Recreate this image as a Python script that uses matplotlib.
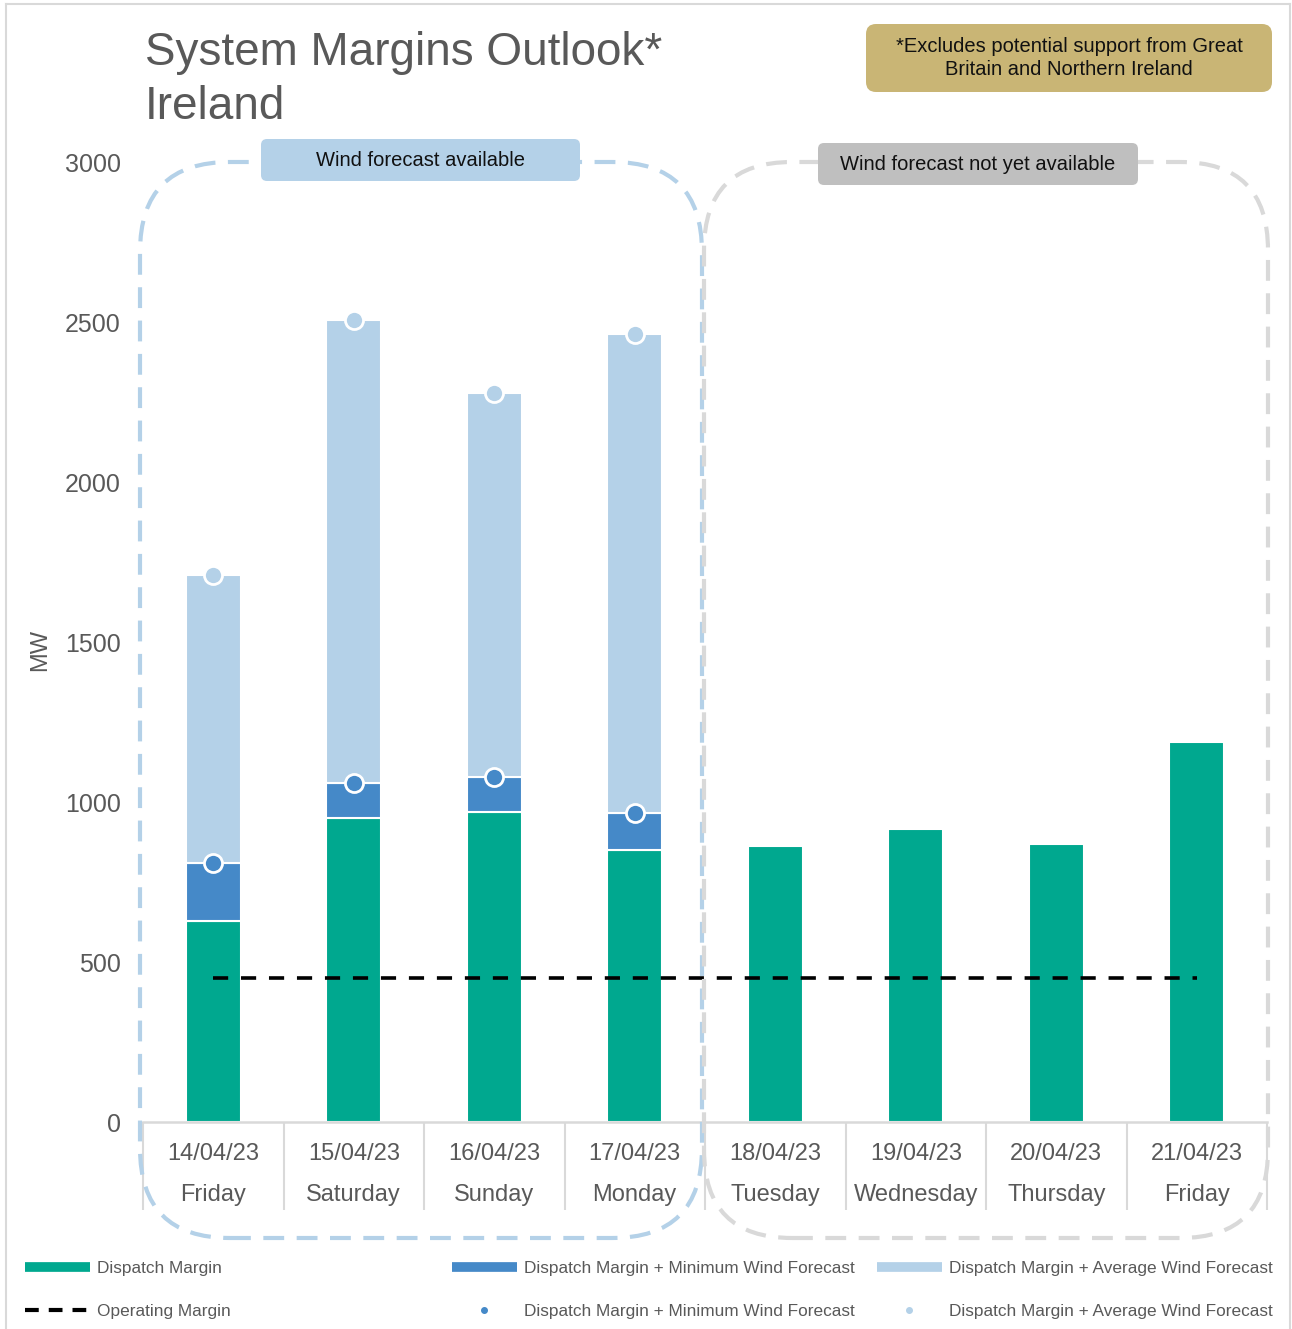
import matplotlib
matplotlib.use("Agg")
import matplotlib.pyplot as plt
from matplotlib.patches import FancyBboxPatch
from matplotlib.lines import Line2D
from matplotlib.transforms import IdentityTransform
import numpy as np

# ---------------- data ----------------
dates = ['14/04/23', '15/04/23', '16/04/23', '17/04/23',
         '18/04/23', '19/04/23', '20/04/23', '21/04/23']
days = ['Friday', 'Saturday', 'Sunday', 'Monday',
        'Tuesday', 'Wednesday', 'Thursday', 'Friday']
dispatch_margin = [630, 951, 970, 850, 863, 916, 870, 1189]
dm_min_wind = [811, 1061, 1080, 967]
dm_avg_wind = [1711, 2509, 2280, 2465]
operating_margin = 450

# ---------------- style ----------------
GREEN = '#00a88f'
BLUE = '#4589c8'
LBLUE = '#b4d1e8'
GRAY_TXT = '#595959'
LGRAY = '#d9d9d9'
GOLD = '#c9b575'

W, H = 1292, 1329
fig = plt.figure(figsize=(W / 100, H / 100), dpi=100)
REG = ['Liberation Sans', 'DejaVu Sans']


def fx(x):
    return x / W


def fy(y):
    return 1 - y / H


ax = fig.add_axes([fx(143), fy(1122), fx(1267) - fx(143), fy(163) - fy(1122)])

x = np.arange(len(dates))
n_w = len(dm_min_wind)
bw = 0.39

ax.bar(x, dispatch_margin, width=bw, color=GREEN, edgecolor='white', linewidth=1.5, zorder=2)
min_seg = np.array(dm_min_wind) - np.array(dispatch_margin[:n_w])
avg_seg = np.array(dm_avg_wind) - np.array(dm_min_wind)
ax.bar(x[:n_w], min_seg, bottom=dispatch_margin[:n_w], width=bw, color=BLUE,
       edgecolor='white', linewidth=1.5, zorder=2)
ax.bar(x[:n_w], avg_seg, bottom=dm_min_wind, width=bw, color=LBLUE,
       edgecolor='white', linewidth=1.5, zorder=2)

ax.plot(x[:n_w], dm_min_wind, 'o', ms=13, mfc=BLUE, mec='white', mew=2, zorder=4, clip_on=False)
ax.plot(x[:n_w], dm_avg_wind, 'o', ms=13, mfc=LBLUE, mec='white', mew=2, zorder=4, clip_on=False)

ax.plot([x[0], x[-1]], [operating_margin, operating_margin], color='black', lw=2.6,
        linestyle=(0, (4.2, 3.55)), zorder=3)

ax.set_xlim(-0.5, len(dates) - 0.5)
ax.set_ylim(0, 3000)
ax.set_yticks([0, 500, 1000, 1500, 2000, 2500, 3000])
ax.tick_params(axis='y', length=0, pad=16, labelsize=18, labelcolor=GRAY_TXT)
for lab in ax.get_yticklabels():
    lab.set_family(REG)

ax.set_xticks(x)
ax.set_xticklabels([f'{d}\n{n}' for d, n in zip(dates, days)], linespacing=2.1)
ax.tick_params(axis='x', which='major', length=0, pad=15, labelsize=17, labelcolor=GRAY_TXT)
for lab in ax.get_xticklabels():
    lab.set_family(REG)
ax.set_xticks(np.arange(-0.5, len(dates)), minor=True)
ax.tick_params(axis='x', which='minor', length=63, width=1.5, color=LGRAY, direction='out')

for s in ['left', 'right', 'top']:
    ax.spines[s].set_visible(False)
ax.spines['bottom'].set_color(LGRAY)
ax.spines['bottom'].set_linewidth(1.8)

fig.text(fx(40), fy(650), 'MW', rotation=90, ha='center', va='center', fontsize=17,
         color=GRAY_TXT, family=REG)

# title
fig.text(fx(145), fy(53), 'System Margins Outlook*', ha='left', va='center',
         fontsize=33, color=GRAY_TXT, family=REG)
fig.text(fx(145), fy(107), 'Ireland', ha='left', va='center',
         fontsize=33, color=GRAY_TXT, family=REG)

# note box
fig.add_artist(FancyBboxPatch((866, H - 92), 406, 68, boxstyle='round,pad=0,rounding_size=10',
                              transform=IdentityTransform(), facecolor=GOLD, edgecolor='none'))
fig.text(fx(1069), fy(58), '*Excludes potential support from Great\nBritain and Northern Ireland',
         ha='center', va='center', fontsize=14.5, color='#111111', family=REG, linespacing=1.3)

# dashed rounded rectangles
fig.add_artist(FancyBboxPatch((140, H - 1238), 562, 1238 - 162,
                              boxstyle='round,pad=0,rounding_size=90',
                              transform=IdentityTransform(), facecolor='none',
                              edgecolor=LBLUE, lw=3, linestyle=(0, (5, 3)), zorder=5))
fig.add_artist(FancyBboxPatch((704, H - 1238), 564, 1238 - 162,
                              boxstyle='round,pad=0,rounding_size=88',
                              transform=IdentityTransform(), facecolor='none',
                              edgecolor=LGRAY, lw=3, linestyle=(0, (5, 3)), zorder=5))

# label boxes
fig.add_artist(FancyBboxPatch((261, H - 181), 319, 42, boxstyle='round,pad=0,rounding_size=6',
                              transform=IdentityTransform(), facecolor=LBLUE, edgecolor='none', zorder=6))
fig.text(fx(421), fy(160), 'Wind forecast available', ha='center', va='center', fontsize=14.5,
         color='#111111', family=REG, zorder=7)
fig.add_artist(FancyBboxPatch((818, H - 185), 320, 42, boxstyle='round,pad=0,rounding_size=6',
                              transform=IdentityTransform(), facecolor='#bfbfbf', edgecolor='none', zorder=6))
fig.text(fx(978), fy(164), 'Wind forecast not yet available', ha='center', va='center', fontsize=14.5,
         color='#111111', family=REG, zorder=7)

# outer border
fig.add_artist(Line2D([fx(6), fx(6)], [fy(4), 0], transform=fig.transFigure, color=LGRAY, lw=1.5))
fig.add_artist(Line2D([fx(1290), fx(1290)], [fy(4), 0], transform=fig.transFigure, color=LGRAY, lw=1.5))
fig.add_artist(Line2D([fx(6), fx(1290)], [fy(4), fy(4)], transform=fig.transFigure, color=LGRAY, lw=1.5))

# legends
leg_kw = dict(frameon=False, loc='upper left', handlelength=3.75, handletextpad=0.45,
              labelspacing=1.6, borderpad=0, borderaxespad=0,
              prop={'family': REG, 'size': 12.4}, labelcolor=GRAY_TXT)
h1 = [Line2D([], [], color=GREEN, lw=7, solid_capstyle='butt'),
      Line2D([], [], color='black', lw=3, linestyle=(0, (3.3, 2.4)), dash_capstyle='butt')]
l1 = ['Dispatch Margin', 'Operating Margin']
h2 = [Line2D([], [], color=BLUE, lw=7, solid_capstyle='butt'),
      Line2D([], [], color=BLUE, marker='o', ms=4, lw=0)]
l2 = ['Dispatch Margin + Minimum Wind Forecast', 'Dispatch Margin + Minimum Wind Forecast']
h3 = [Line2D([], [], color=LBLUE, lw=7, solid_capstyle='butt'),
      Line2D([], [], color=LBLUE, marker='o', ms=4, lw=0)]
l3 = ['Dispatch Margin + Average Wind Forecast', 'Dispatch Margin + Average Wind Forecast']
fig.legend(h1, l1, bbox_to_anchor=(fx(25), fy(1261)), **leg_kw)
fig.legend(h2, l2, bbox_to_anchor=(fx(452), fy(1261)), **leg_kw)
fig.legend(h3, l3, bbox_to_anchor=(fx(877), fy(1261)), **leg_kw)

fig.savefig('out.png', dpi=100, facecolor='white')
